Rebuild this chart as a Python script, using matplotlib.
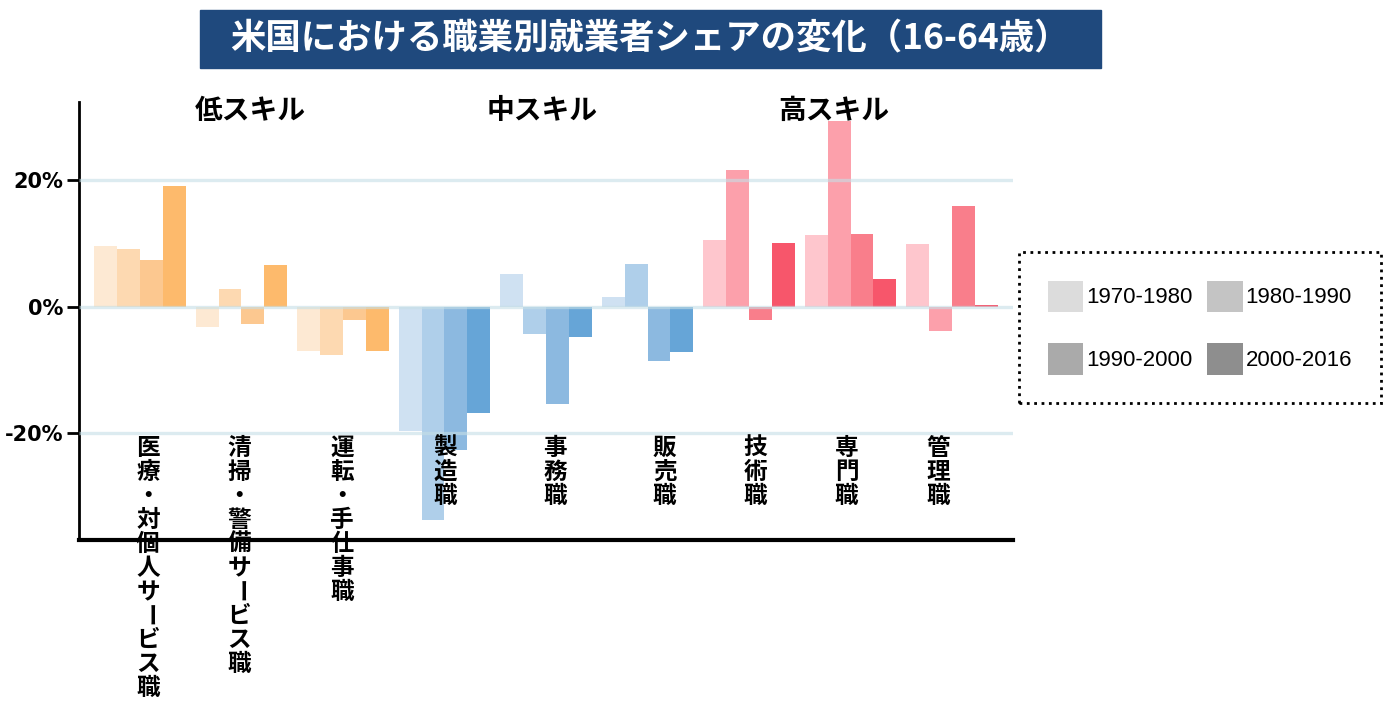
import matplotlib
matplotlib.use('Agg')
import matplotlib.pyplot as plt
from matplotlib.patches import Rectangle, Patch
import numpy as np

occupations = ['医療・対個人サービス職', '清掃・警備サービス職', '運転・手仕事職',
               '製造職', '事務職', '販売職',
               '技術職', '専門職', '管理職']
skill_groups = ['低スキル', '中スキル', '高スキル']
periods = ['1970-1980', '1980-1990', '1990-2000', '2000-2016']
share_1970_1980 = [9.6, -3.3, -7.0, -19.6, 5.2, 1.6, 10.6, 11.3, 9.9]
share_1980_1990 = [9.1, 2.8, -7.7, -33.7, -4.4, 6.8, 21.6, 29.4, -3.9]
share_1990_2000 = [7.3, -2.8, -2.1, -22.6, -15.4, -8.6, -2.1, 11.5, 15.9]
share_2000_2016 = [19.0, 6.6, -7.0, -16.8, -4.8, -7.2, 10.1, 4.4, 0.2]
ytick_values = [-20, 0, 20]
ytick_labels = ['-20%', '0%', '20%']

# styling
palette = {
    0: ['#fde9d3', '#fdd9b1', '#fcc890', '#fdba6c'],   # low skill: oranges
    1: ['#cfe1f2', '#afcfea', '#8cb9e0', '#66a5d7'],   # mid skill: blues
    2: ['#fec6cd', '#fca0ab', '#f97e8b', '#f7566b'],   # high skill: reds
}
legend_grays = ['#dcdcdc', '#c4c4c4', '#aaaaaa', '#8e8e8e']
label_shift = [0.08, -0.02, -0.01, 0.01, 0.09, 0.17, 0.06, -0.04, -0.14]
group_title_x = [1.09, 3.96, 6.83]
JP = 'Noto Sans CJK JP'

fig = plt.figure(figsize=(14, 7.04), dpi=100)
ax = fig.add_axes([79 / 1400, 1 - 540 / 704, (1013 - 79) / 1400, (540 - 101.7) / 704])

series = [share_1970_1980, share_1980_1990, share_1990_2000, share_2000_2016]
x = np.arange(len(occupations))
w = 0.225
for k, vals in enumerate(series):
    cols = [palette[i // 3][k] for i in range(len(occupations))]
    ax.bar(x + (k - 1.5) * w, vals, width=w, color=cols, zorder=1)

ax.set_xlim(-0.6, 8.6)
ax.set_ylim(-36.9, 32.4)
ax.set_yticks(ytick_values)
ax.set_yticklabels(ytick_labels, fontsize=15, fontweight='bold', family='DejaVu Sans')
ax.set_xticks([])
ax.tick_params(axis='y', length=9, width=2, pad=2)
ax.yaxis.grid(True, color='#c5dfe6', lw=2.4, alpha=0.6)
ax.set_axisbelow(False)
for s in ['top', 'right']:
    ax.spines[s].set_visible(False)
ax.spines['left'].set_linewidth(2)
ax.spines['bottom'].set_linewidth(3)

# vertical category labels, one character per line
pitch = 24 * 0.72
for i, name in enumerate(occupations):
    for j, ch in enumerate(name):
        ax.annotate(ch, xy=(i + label_shift[i], (540 - 448) / 438.3),
                    xycoords=('data', 'axes fraction'),
                    xytext=(0, -j * pitch), textcoords='offset points',
                    ha='center', va='center', fontsize=17, fontweight='bold',
                    family=JP, rotation=-90 if ch == 'ー' else 0,
                    rotation_mode='anchor', zorder=5)

for gx, g in zip(group_title_x, skill_groups):
    ax.text(gx, 30.9, g, ha='center', va='center', fontsize=20,
            fontweight='bold', family=JP)

# title banner
fig.patches.append(Rectangle((200 / 1400, 1 - 68 / 704), 901 / 1400, 58 / 704,
                             transform=fig.transFigure, color='#1f497d'))
fig.text(650 / 1400, 1 - 39 / 704, '米国における職業別就業者シェアの変化（16-64歳）',
         ha='center', va='center', color='white', fontsize=25.5,
         fontweight='bold', family=JP)

# legend (column-major order -> reorder for row layout)
handles = [Patch(facecolor=c) for c in legend_grays]
order = [0, 2, 1, 3]
leg = fig.legend([handles[i] for i in order], [periods[i] for i in order],
                 ncol=2, loc='center', bbox_to_anchor=(1200 / 1400, 1 - 327.5 / 704),
                 prop={'family': 'Liberation Sans', 'size': 16},
                 handlelength=1.6, handleheight=1.8, labelspacing=1.4,
                 columnspacing=0.64, handletextpad=0.14, borderpad=1.3,
                 fancybox=False, edgecolor='black', framealpha=1)
leg.get_frame().set_linestyle(':')
leg.get_frame().set_linewidth(2)

fig.savefig('out.png', dpi=100)
